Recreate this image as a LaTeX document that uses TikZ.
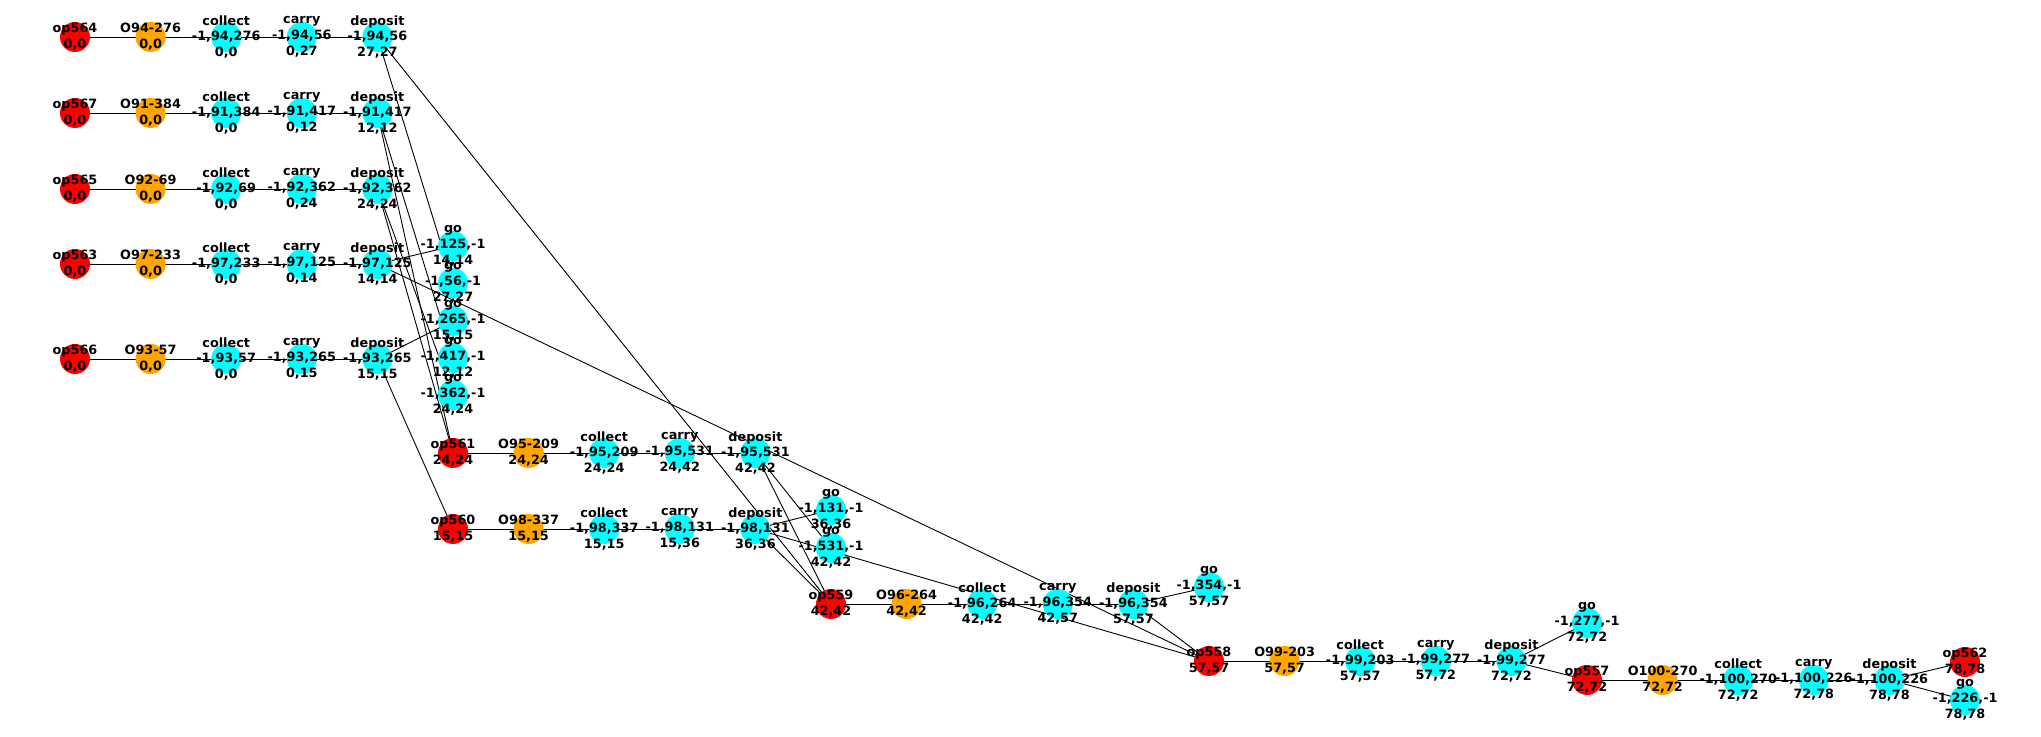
\documentclass[tikz,border=0pt]{standalone}
\usepackage{fontspec}
\setmainfont{DejaVu Sans}
\definecolor{nred}{RGB}{255,0,0}
\definecolor{norange}{RGB}{255,165,0}
\definecolor{ncyan}{RGB}{0,255,255}
\pgfdeclarelayer{bg}
\pgfdeclarelayer{fg}
\pgfsetlayers{bg,main,fg}
\tikzset{
  dot/.style={circle,inner sep=0pt,minimum size=15pt,draw=none},
  lbl/.style={align=center,inner sep=0pt,font=\fontsize{6.4}{7.9}\selectfont\bfseries},
  edge/.style={line width=0.45pt,black}
}
\newcommand\gn[5]{\node[dot,fill=#4] (#1) at (#2,#3) {};
  \begin{pgfonlayer}{fg}\node[lbl] (#1l) at (#2,#3) {#5};\end{pgfonlayer}}
\begin{document}
\begin{tikzpicture}[x=0.5pt,y=-0.5pt]
\useasboundingbox (0,0) rectangle (2041,737);
% row 1
\gn{op564}{75}{37}{nred}{op564\\0,0}
\gn{O94}{150.6}{37}{norange}{O94-276\\0,0}
\gn{c94}{226.2}{37}{ncyan}{collect\\-1,94,276\\0,0}
\gn{ca94}{301.8}{37}{ncyan}{carry\\-1,94,56\\0,27}
\gn{d94}{377.4}{37}{ncyan}{deposit\\-1,94,56\\27,27}
% row 2
\gn{op567}{75}{113}{nred}{op567\\0,0}
\gn{O91}{150.6}{113}{norange}{O91-384\\0,0}
\gn{c91}{226.2}{113}{ncyan}{collect\\-1,91,384\\0,0}
\gn{ca91}{301.8}{113}{ncyan}{carry\\-1,91,417\\0,12}
\gn{d91}{377.4}{113}{ncyan}{deposit\\-1,91,417\\12,12}
% row 3
\gn{op565}{75}{189}{nred}{op565\\0,0}
\gn{O92}{150.6}{189}{norange}{O92-69\\0,0}
\gn{c92}{226.2}{189}{ncyan}{collect\\-1,92,69\\0,0}
\gn{ca92}{301.8}{189}{ncyan}{carry\\-1,92,362\\0,24}
\gn{d92}{377.4}{189}{ncyan}{deposit\\-1,92,362\\24,24}
% row 4
\gn{op563}{75}{264}{nred}{op563\\0,0}
\gn{O97}{150.6}{264}{norange}{O97-233\\0,0}
\gn{c97}{226.2}{264}{ncyan}{collect\\-1,97,233\\0,0}
\gn{ca97}{301.8}{264}{ncyan}{carry\\-1,97,125\\0,14}
\gn{d97}{377.4}{264}{ncyan}{deposit\\-1,97,125\\14,14}
% row 5
\gn{op566}{75}{359}{nred}{op566\\0,0}
\gn{O93}{150.6}{359}{norange}{O93-57\\0,0}
\gn{c93}{226.2}{359}{ncyan}{collect\\-1,93,57\\0,0}
\gn{ca93}{301.8}{359}{ncyan}{carry\\-1,93,265\\0,15}
\gn{d93}{377.4}{359}{ncyan}{deposit\\-1,93,265\\15,15}
% go column
\gn{g125}{453}{246}{ncyan}{go\\-1,125,-1\\14,14}
\gn{g56}{453}{283}{ncyan}{go\\-1,56,-1\\27,27}
\gn{g265}{453}{321}{ncyan}{go\\-1,265,-1\\15,15}
\gn{g417}{453}{358}{ncyan}{go\\-1,417,-1\\12,12}
\gn{g362}{453}{395}{ncyan}{go\\-1,362,-1\\24,24}
% row 6
\gn{op561}{453}{453}{nred}{op561\\24,24}
\gn{O95}{528.6}{453}{norange}{O95-209\\24,24}
\gn{c95}{604.2}{453}{ncyan}{collect\\-1,95,209\\24,24}
\gn{ca95}{679.8}{453}{ncyan}{carry\\-1,95,531\\24,42}
\gn{d95}{755.4}{453}{ncyan}{deposit\\-1,95,531\\42,42}
% row 7
\gn{op560}{453}{529}{nred}{op560\\15,15}
\gn{O98}{528.6}{529}{norange}{O98-337\\15,15}
\gn{c98}{604.2}{529}{ncyan}{collect\\-1,98,337\\15,15}
\gn{ca98}{679.8}{529}{ncyan}{carry\\-1,98,131\\15,36}
\gn{d98}{755.4}{529}{ncyan}{deposit\\-1,98,131\\36,36}
\gn{g131}{831}{510}{ncyan}{go\\-1,131,-1\\36,36}
\gn{g531}{831}{548}{ncyan}{go\\-1,531,-1\\42,42}
% row 8
\gn{op559}{831}{604}{nred}{op559\\42,42}
\gn{O96}{906.6}{604}{norange}{O96-264\\42,42}
\gn{c96}{982.2}{604}{ncyan}{collect\\-1,96,264\\42,42}
\gn{ca96}{1057.8}{604}{ncyan}{carry\\-1,96,354\\42,57}
\gn{d96}{1133.4}{604}{ncyan}{deposit\\-1,96,354\\57,57}
\gn{g354}{1209}{587}{ncyan}{go\\-1,354,-1\\57,57}
% row 9
\gn{op558}{1209}{661}{nred}{op558\\57,57}
\gn{O99}{1284.6}{661}{norange}{O99-203\\57,57}
\gn{c99}{1360.2}{661}{ncyan}{collect\\-1,99,203\\57,57}
\gn{ca99}{1435.8}{661}{ncyan}{carry\\-1,99,277\\57,72}
\gn{d99}{1511.4}{661}{ncyan}{deposit\\-1,99,277\\72,72}
\gn{g277}{1587}{623}{ncyan}{go\\-1,277,-1\\72,72}
% row 10
\gn{op557}{1587}{680}{nred}{op557\\72,72}
\gn{O100}{1662.6}{680}{norange}{O100-270\\72,72}
\gn{c100}{1738.2}{680}{ncyan}{collect\\-1,100,270\\72,72}
\gn{ca100}{1813.8}{680}{ncyan}{carry\\-1,100,226\\72,78}
\gn{d100}{1889.4}{680}{ncyan}{deposit\\-1,100,226\\78,78}
\gn{op562}{1965}{662}{nred}{op562\\78,78}
\gn{g226}{1965}{700}{ncyan}{go\\-1,226,-1\\78,78}
\begin{pgfonlayer}{bg}
\foreach \a/\b in {op564/O94,O94/c94,c94/ca94,ca94/d94,
  op567/O91,O91/c91,c91/ca91,ca91/d91,
  op565/O92,O92/c92,c92/ca92,ca92/d92,
  op563/O97,O97/c97,c97/ca97,ca97/d97,
  op566/O93,O93/c93,c93/ca93,ca93/d93,
  op561/O95,O95/c95,c95/ca95,ca95/d95,
  op560/O98,O98/c98,c98/ca98,ca98/d98,
  op559/O96,O96/c96,c96/ca96,ca96/d96,
  op558/O99,O99/c99,c99/ca99,ca99/d99,
  op557/O100,O100/c100,c100/ca100,ca100/d100,
  d94/g56,d94/op559,
  d91/g417,d91/op561,
  d92/g362,d92/op561,
  d97/g125,d97/op558,
  d93/g265,d93/op560,
  d95/g531,d95/op559,
  d98/g131,d98/op559,d98/op558,
  d96/g354,d96/op558,
  d99/g277,d99/op557,
  d100/op562,d100/g226}
  \draw[edge] (\a.center) -- (\b.center);
\end{pgfonlayer}
\end{tikzpicture}
\end{document}
